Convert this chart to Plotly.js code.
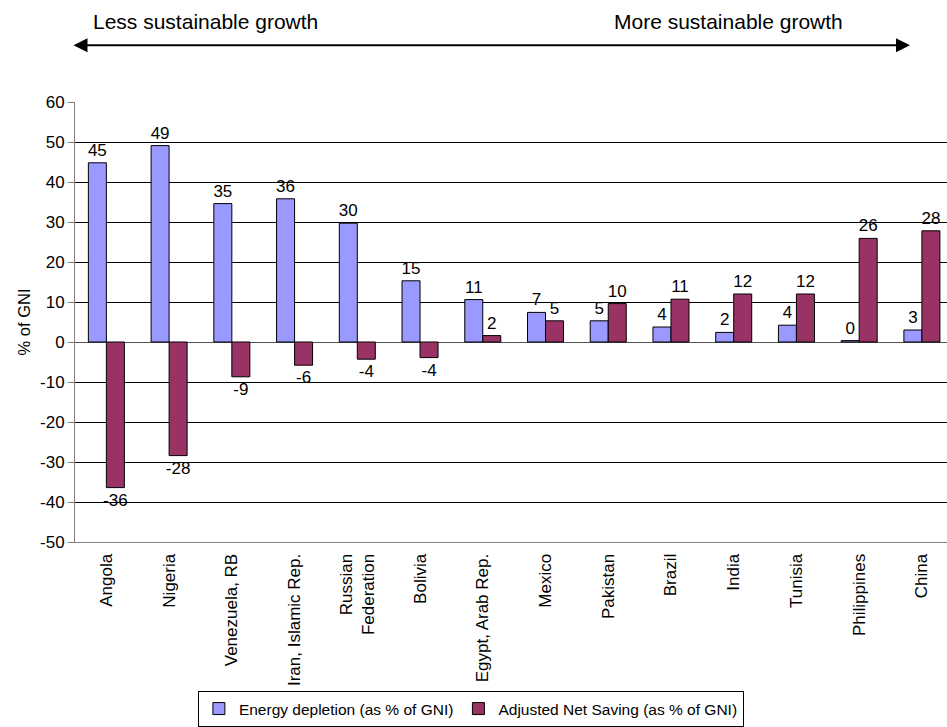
<!DOCTYPE html>
<html>
<head>
<meta charset="utf-8">
<script src="https://cdn.plot.ly/plotly-3.0.1.min.js"></script>
<style>
  html, body { margin: 0; padding: 0; background: #fff; }
  #chart { width: 947px; height: 727px; }
</style>
</head>
<body>
<div id="chart"></div>
<script>
// ---- Data ----
const countries = ['Angola', 'Nigeria', 'Venezuela, RB', 'Iran, Islamic Rep.', 'Russian<br>Federation',
  'Bolivia', 'Egypt, Arab Rep.', 'Mexico', 'Pakistan', 'Brazil', 'India', 'Tunisia', 'Philippines', 'China'];
const energyDepletion = [44.8, 49.1, 34.6, 35.8, 29.7, 15.3, 10.6, 7.4, 5.3, 3.75, 2.4, 4.2, 0.35, 3.0];
const adjustedNetSaving = [-36.4, -28.4, -8.7, -5.8, -4.3, -3.9, 1.6, 5.3, 9.6, 10.7, 12.0, 12.0, 25.9, 27.8];
const seriesNames = ['Energy depletion (as % of GNI)', 'Adjusted Net Saving (as % of GNI)'];
const yTickVals = [-50, -40, -30, -20, -10, 0, 10, 20, 30, 40, 50, 60];
const yTitle = '% of GNI';
const leftNote = 'Less sustainable growth';
const rightNote = 'More sustainable growth';

const FONT = 'Liberation Sans, Arial, Helvetica, sans-serif';
const yMin = yTickVals[0], yMax = yTickVals[yTickVals.length - 1];
const xRange = [-0.5, countries.length - 0.6];
const boundaries = countries.map((_, i) => i - 0.5);
const label = v => String(Math.round(v));   // plain hyphen-minus like the original

const common = {
  type: 'bar',
  x: countries,
  textposition: 'outside',
  constraintext: 'none',
  cliponaxis: false,
  textfont: { family: FONT, size: 17, color: '#000' },
  hoverinfo: 'skip'
};

const traces = [
  Object.assign({}, common, {
    name: seriesNames[0], y: energyDepletion, text: energyDepletion.map(label),
    marker: { color: '#9999FF', line: { color: '#000', width: 1 } }
  }),
  Object.assign({}, common, {
    name: seriesNames[1], y: adjustedNetSaving, text: adjustedNetSaving.map(label),
    marker: { color: '#993366', line: { color: '#000', width: 1 } }
  })
];

const layout = {
  width: 947, height: 727,
  margin: { l: 75, r: 0, t: 102, b: 185 },
  paper_bgcolor: '#fff', plot_bgcolor: '#fff',
  font: { family: FONT, size: 16, color: '#000' },
  barmode: 'group',
  bargap: 0.426,
  bargroupgap: 0,
  showlegend: true,
  legend: {
    orientation: 'h', x: 0.454, xanchor: 'center', y: -0.339, yanchor: 'top',
    bordercolor: '#000', borderwidth: 1, bgcolor: '#fff',
    font: { family: FONT, size: 15.5, color: '#000' },
    itemwidth: 30, traceorder: 'normal'
  },
  xaxis: {
    type: 'category', range: xRange, fixedrange: true, automargin: false,
    showgrid: false, zeroline: false,
    showline: true, linecolor: '#808080', linewidth: 1, mirror: false,
    ticks: '', tickangle: -90, ticklabelstandoff: 4,
    tickfont: { family: FONT, size: 17, color: '#000' }
  },
  xaxis2: {
    overlaying: 'x', anchor: 'free', position: (0 - yMin) / (yMax - yMin),
    type: 'linear', range: xRange, fixedrange: true, automargin: false,
    tickmode: 'array', tickvals: boundaries, showticklabels: false,
    ticks: 'outside', ticklen: 5, tickcolor: '#555', tickwidth: 1,
    showgrid: false, zeroline: false, showline: true, linecolor: '#555', linewidth: 1
  },
  yaxis: {
    range: [yMin, yMax], fixedrange: true, automargin: false,
    tickmode: 'array', tickvals: yTickVals, ticktext: yTickVals.map(String),
    showgrid: true, gridcolor: '#000', gridwidth: 1,
    zeroline: true, zerolinecolor: '#555', zerolinewidth: 1,
    showline: true, linecolor: '#808080', linewidth: 1,
    ticks: 'outside', ticklen: 6, tickcolor: '#808080',
    tickfont: { family: FONT, size: 17, color: '#000' },
    title: { text: yTitle, font: { family: FONT, size: 16.5, color: '#000' }, standoff: 5 }
  },
  annotations: [
    { xref: 'paper', yref: 'paper', x: 0.0183, y: 1.1832, xanchor: 'left', yanchor: 'middle',
      text: leftNote, showarrow: false, font: { family: FONT, size: 21, color: '#000' } },
    { xref: 'paper', yref: 'paper', x: 0.6158, y: 1.1832, xanchor: 'left', yanchor: 'middle',
      text: rightNote, showarrow: false, font: { family: FONT, size: 21, color: '#000' } },
    { xref: 'paper', yref: 'paper', x: 0.9576, y: 1.1287, text: '',
      showarrow: true, axref: 'pixel', ayref: 'pixel', ax: -838, ay: 0,
      arrowside: 'end+start', arrowhead: 2, startarrowhead: 2,
      arrowsize: 1.4, startarrowsize: 1.4, arrowwidth: 2, arrowcolor: '#000',
      standoff: 0, startstandoff: 0 }
  ]
};

Plotly.newPlot('chart', traces, layout, { displayModeBar: false, staticPlot: true });
</script>
</body>
</html>
